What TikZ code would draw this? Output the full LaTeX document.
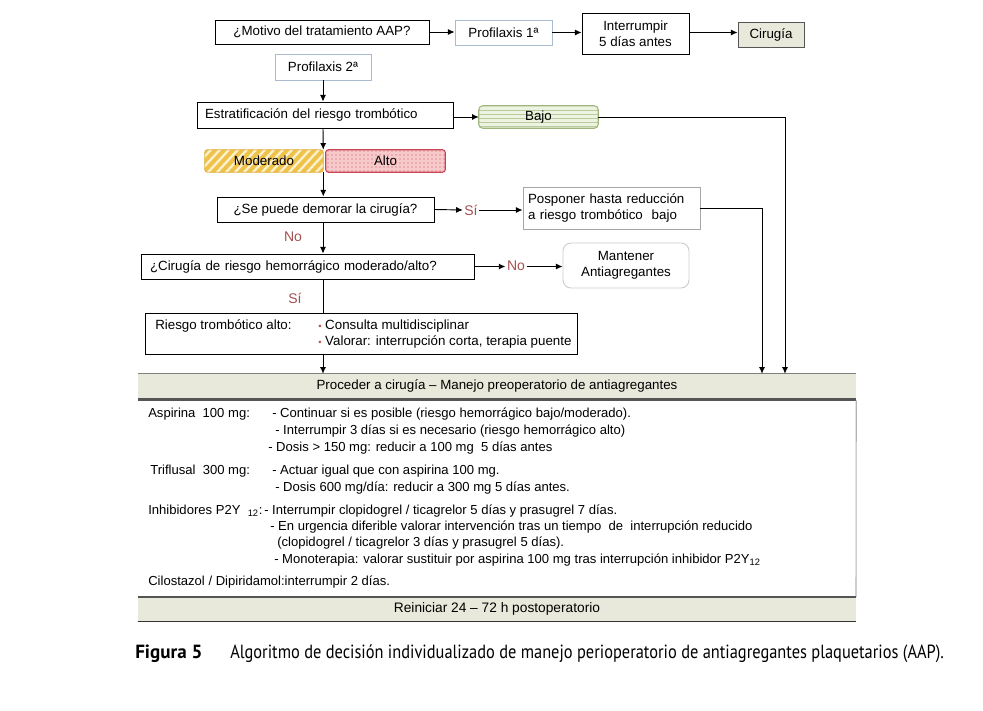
\documentclass[tikz,border=0pt]{standalone}
\usepackage{fontspec}
\setmainfont{Liberation Sans}
\newfontfamily\capfont[FakeStretch=0.86]{PT Sans}
\newfontfamily\capbfont{PT Sans Bold}
\usetikzlibrary{arrows.meta,patterns,calc}
\definecolor{lbl}{HTML}{A5504F}
\definecolor{bluebd}{HTML}{A9BCCF}
\definecolor{hdr}{HTML}{E9E9DB}
\definecolor{bajofill}{HTML}{EDF3E0}
\definecolor{bajoline}{HTML}{B9CC9E}
\definecolor{bajobd}{HTML}{9FB57C}
\definecolor{modfill}{HTML}{FCF1CF}
\definecolor{modline}{HTML}{EFC24A}
\definecolor{modbd}{HTML}{DDB046}
\definecolor{altofill}{HTML}{F6CACB}
\definecolor{altodot}{HTML}{D2505A}
\definecolor{altobd}{HTML}{C94455}
\definecolor{bul}{HTML}{C0504D}
\definecolor{grayline}{HTML}{555555}
\begin{document}
\begin{tikzpicture}[x=0.75pt,y=-0.75pt,
  font=\fontsize{10}{12}\selectfont,
  wh/.style n args={2}{minimum width={#1*0.75pt}, minimum height={#2*0.75pt}},
  box/.style={draw=black, line width=0.7pt, fill=white, inner sep=0pt},
  lbox/.style={draw=bluebd, line width=0.7pt, fill=white, inner sep=0pt},
  arr/.style={-{Latex[length=5pt,width=4.5pt]}, line width=0.7pt},
  ln/.style={line width=0.7pt},
  lbl/.style={text=lbl, font=\fontsize{10.5}{12}\selectfont, inner sep=1pt},
  txt/.style={anchor=west, inner sep=0pt, font=\fontsize{9.8}{11.5}\selectfont},
  captext/.style={anchor=base west, inner sep=0pt, font=\capfont\fontsize{14.3}{16}\selectfont}
]
\useasboundingbox (0,0) rectangle (983,711);
\coordinate (spine) at (323,0);

% top row
\node[box, wh={214}{24}] (motivo) at (322,32) {¿Motivo del tratamiento AAP?};
\node[lbox, wh={97}{25}] (p1) at (503.5,32.5) {Profilaxis 1ª};
\node[box, wh={107}{41}, align=center] (interr) at (635.5,33.5) {Interrumpir\\ 5 días antes};
\node[draw=grayline, line width=0.7pt, fill=hdr, inner sep=0pt, wh={66}{25}] (cirugia) at (771,34.5) {Cirugía};
\node[lbox, wh={96}{26}] (p2) at (323,67) {Profilaxis 2ª};

\draw[arr] (motivo.east) -- (motivo.east -| p1.west);
\draw[arr] (p1.east) -- (p1.east -| interr.west);
\draw[arr] (interr.east |- p1.east) -- (p1.east -| cirugia.west);

% stratification
\node[box, wh={256}{26}, text width={240*0.75pt}, align=left, inner xsep={8*0.75pt}] (estrat) at (325,115) {Estratificación del riesgo trombótico};
\draw[arr] (spine |- p2.south) -- (spine |- estrat.north);

% Bajo
\node[inner sep=0pt, wh={119}{22}] (bajo) at (538.5,117) {};
\fill[bajofill, rounded corners=3pt] (bajo.north west) rectangle (bajo.south east);
\begin{scope}
\clip[rounded corners=3pt] (bajo.north west) rectangle (bajo.south east);
\foreach \yy in {110,114,...,126} \draw[bajoline, line width=0.6pt] (479,\yy) -- (598,\yy);
\end{scope}
\draw[bajobd, line width=0.8pt, rounded corners=3pt] (bajo.north west) rectangle (bajo.south east);
\node[inner sep=0pt] (bajot) at (bajo.center) {Bajo};
\draw[arr] (estrat.east |- bajo.west) -- (bajo.west);

% Moderado
\node[inner sep=0pt, wh={118}{22}] (moderado) at (264,161) {};
\fill[modfill, rounded corners=2pt] (moderado.north west) rectangle (moderado.south east);
\begin{scope}
\clip[rounded corners=2pt] (moderado.north west) rectangle (moderado.south east);
\foreach \i in {-30,-21,...,130} \draw[modline, line width=3pt] (205+\i,174) -- (229+\i,148);
\end{scope}
\draw[modbd, line width=0.6pt, rounded corners=2pt] (moderado.north west) rectangle (moderado.south east);
\node[inner sep=0pt] (modt) at (moderado.center) {Moderado};

% Alto
\node[inner sep=0pt, wh={119}{22}] (alto) at (385.5,161) {};
\fill[altofill, rounded corners=2pt] (alto.north west) rectangle (alto.south east);
\fill[pattern=dots, pattern color=altodot, rounded corners=2pt] (alto.north west) rectangle (alto.south east);
\draw[altobd, line width=0.8pt, rounded corners=2pt] (alto.north west) rectangle (alto.south east);
\node[inner sep=0pt] (altot) at (alto.center) {Alto};

\draw[arr] (spine |- estrat.south) -- (moderado.north east);

% demorar
\node[box, wh={217}{25}] (demorar) at (325.5,209.5) {¿Se puede demorar la cirugía?};
\draw[arr] (moderado.south east) -- (moderado.south east |- demorar.north);
\node[lbl] (si1) at (471,210) {Sí};
\draw[arr] (demorar.east) -- (si1.west);
\node[draw=gray!70, line width=0.7pt, fill=white, inner sep=0pt, wh={177}{42}, text width={167*0.75pt}, align=left, inner xsep={5*0.75pt}] (posponer) at (611.5,208) {Posponer hasta reducción\\a riesgo trombótico\ \ bajo};
\draw[arr] (si1.east) -- (si1.east -| posponer.west);

\node[lbl] (no1) at (293,237) {No};

% cirugia hemorragico
\node[box, wh={329}{25}, text width={315*0.75pt}, align=left, inner xsep={9*0.75pt}] (cirhem) at (307.5,266.5) {¿Cirugía de riesgo hemorrágico moderado/alto?};
\draw[arr] (spine |- demorar.south) -- (spine |- cirhem.north);
\node[lbl] (no2) at (516,266) {No};
\draw[arr] (cirhem.east) -- (cirhem.east -| no2.west);
\node[draw=gray!40, line width=0.7pt, fill=white, rounded corners=6pt, inner sep=0pt, wh={126}{45}, align=center] (mantener) at (626,265.5) {Mantener\\Antiagregantes};
\draw[arr] (no2.east |- cirhem.east) -- (cirhem.east -| mantener.west);

\node[lbl] (si2) at (295,298) {Sí};

% riesgo alto
\node[box, wh={432}{41}] (riesgo) at (361,334) {};
\draw[ln] (spine |- cirhem.south) -- (spine |- riesgo.north);
\node[txt, font=\fontsize{10}{12}\selectfont] (rta) at (155,326) {Riesgo trombótico alto:};
\node[txt, font=\fontsize{10}{12}\selectfont] (rb1) at (318,326) {{\color{bul}\scriptsize •}\ Consulta multidisciplinar};
\node[txt, font=\fontsize{10}{12}\selectfont] (rb2) at (318,342) {{\color{bul}\scriptsize •}\ Valorar: interrupción corta, terapia puente};

% proceed header
\node[fill=hdr, inner sep=0pt, wh={718}{24}, font=\fontsize{10}{12}\selectfont] (proceed) at (497,386) {Proceder a cirugía – Manejo preoperatorio de antiagregantes};
\draw[gray, line width=0.6pt] (proceed.north west) -- (proceed.north east);
\draw[grayline, line width=2pt] ($(proceed.south west)+(0,1)$) -- ($(proceed.south east)+(0,1)$);
\draw[arr] (spine |- riesgo.south) -- (spine |- proceed.north);

\coordinate (cb) at (785,117);
\draw[arr] (bajo.east) -- (cb) -- (cb |- proceed.north);
\coordinate (cp) at (762,208);
\draw[arr] (posponer.east) -- (cp) -- (cp |- proceed.north);

% content
\node[txt] (a0) at (148,414) {Aspirina\ \ 100 mg:};
\node[txt] (a1) at (272,414) {- Continuar si es posible (riesgo hemorrágico bajo/moderado).};
\node[txt] (a2) at (275,431) {- Interrumpir 3 días si es necesario (riesgo hemorrágico alto)};
\node[txt] (a3) at (268,448) {- Dosis > 150 mg: reducir a 100 mg\ \ 5 días antes};
\node[txt] (t0) at (150,471) {Triflusal\ \ 300 mg:};
\node[txt] (t1) at (272,471) {- Actuar igual que con aspirina 100 mg.};
\node[txt] (t2) at (275,488) {- Dosis 600 mg/día: reducir a 300 mg 5 días antes.};
\node[txt] (i0) at (148,511) {Inhibidores P2Y \ $_{\mbox{\fontsize{7}{8}\selectfont 12}}$:};
\node[txt] (i1) at (264,511) {- Interrumpir clopidogrel / ticagrelor 5 días y prasugrel 7 días.};
\node[txt] (i2) at (270,527) {- En urgencia diferible valorar intervención tras un tiempo\ \ de\ \ interrupción reducido};
\node[txt] (i3) at (277,543) {(clopidogrel / ticagrelor 3 días y prasugrel 5 días).};
\node[txt] (i4) at (274,560) {- Monoterapia: valorar sustituir por aspirina 100 mg tras interrupción inhibidor P2Y$_{\mbox{\fontsize{7}{8}\selectfont 12}}$};
\node[txt] (c0) at (148,582) {Cilostazol / Dipiridamol:interrumpir 2 días.};
\draw[gray!60, line width=0.8pt] ($(proceed.south east)+(0,2)$) -- (856,597);

% reiniciar
\node[fill=hdr, inner sep=0pt, wh={718}{24}, font=\fontsize{10.3}{12}\selectfont] (reiniciar) at (497,609) {Reiniciar 24 – 72 h postoperatorio};
\draw[grayline, line width=1.8pt] (reiniciar.north west) -- (reiniciar.north east);
\draw[black!80, line width=1.1pt] (reiniciar.south west) -- (reiniciar.south east);

% caption
\node[captext, font=\capbfont\fontsize{14.3}{16}\selectfont] (fig) at (135,658) {Figura 5};
\node[captext] (captxt) at (230,658) {Algoritmo de decisión individualizado de manejo perioperatorio de antiagregantes plaquetarios (AAP).};
\end{tikzpicture}
\end{document}
